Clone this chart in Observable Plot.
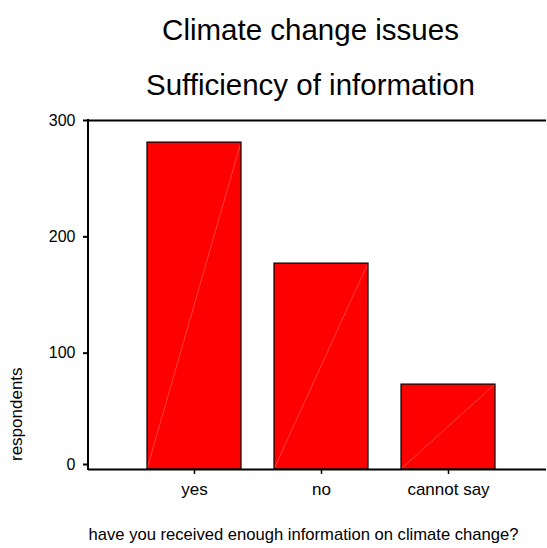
<!DOCTYPE html>
<html><head><meta charset="utf-8">
<script src="https://cdn.jsdelivr.net/npm/d3@7"></script>
<script src="https://cdn.jsdelivr.net/npm/@observablehq/plot@0.6"></script>
<style>body{margin:0;background:#fff} svg{display:block}</style>
</head><body><div id="chart"></div>
<script>
const categories = ["yes", "no", "cannot say"];
const respondents = [281, 177, 73];
const yTicks = [100, 200, 300];
const yTickZero = [0];
const titleText = "Climate change issues";
const subtitleText = "Sufficiency of information";
const xLabel = "have you received enough information on climate change?";
const yLabel = "respondents";

const data = categories.map((c, i) => ({category: c, value: respondents[i]}));
const font = "'Liberation Sans', Arial, Helvetica, sans-serif";

// faint diagonal inside each bar (bottom-left to top-right), through the scales
const diagonals = (index, scales) => {
  const x = scales.x, y = scales.y;
  const g = d3.create("svg:g");
  if (!x || !x.bandwidth) return g.node();
  const bw = x.bandwidth();
  for (const d of data) {
    const x0 = x(d.category);
    g.append("line")
      .attr("x1", x0).attr("y1", y(0))
      .attr("x2", x0 + bw).attr("y2", y(d.value))
      .attr("stroke", "#ff6a6a").attr("stroke-width", 0.6);
  }
  return g.node();
};

// left axis line from 0 to top of domain
const leftAxisLine = (index, scales, values, dimensions) => {
  const y = scales.y;
  const ml = dimensions.marginLeft;
  return d3.create("svg:line")
    .attr("x1", ml).attr("x2", ml)
    .attr("y1", y(0) + 1).attr("y2", y(300) - 1)
    .attr("stroke", "black").attr("stroke-width", 2).node();
};

const chart = Plot.plot({
  width: 547,
  height: 548,
  marginTop: 120,
  marginBottom: 79,
  marginLeft: 88,
  marginRight: 1,
  style: {fontFamily: font, fontSize: "16px", color: "black", background: "white"},
  x: {domain: categories, paddingInner: 0.26, paddingOuter: 0.433, align: 0.536},
  y: {domain: [0, 300]},
  marks: [
    Plot.barY(data, {x: "category", y: "value", fill: "#ff0000"}),
    diagonals,
    Plot.barY(data, {x: "category", y: "value", fill: "none", stroke: "black", strokeWidth: 1.2}),
    Plot.ruleY([0, 300], {stroke: "black", strokeWidth: 2}),
    leftAxisLine,
    Plot.axisY(yTicks, {tickSize: 5, tickPadding: 8, fontSize: 16, label: null, stroke: "black", strokeWidth: 2, fill: "black"}),
    Plot.axisY(yTickZero, {tickSize: 5, tickPadding: 8, fontSize: 16, label: null, stroke: "black", strokeWidth: 2, fill: "black", dy: -5}),
    Plot.axisX({tickSize: 5, tickPadding: 8, fontSize: 17, label: null, stroke: "black", strokeWidth: 1.5, fill: "black"}),
    Plot.text([titleText], {frameAnchor: "top", dx: -7, dy: -81, lineAnchor: "bottom", fontSize: 29.5, fill: "black"}),
    Plot.text([subtitleText], {frameAnchor: "top", dx: -7, dy: -26, lineAnchor: "bottom", fontSize: 29.5, fill: "black"}),
    Plot.text([xLabel], {frameAnchor: "bottom", dx: -14, dy: 70, lineAnchor: "bottom", fontSize: 16.6, fill: "black"}),
    Plot.text([yLabel], {frameAnchor: "left", dx: -72, dy: 166, rotate: -90, lineAnchor: "middle", fontSize: 17, fill: "black"})
  ]
});
document.getElementById("chart").appendChild(chart);
</script>
</body></html>
